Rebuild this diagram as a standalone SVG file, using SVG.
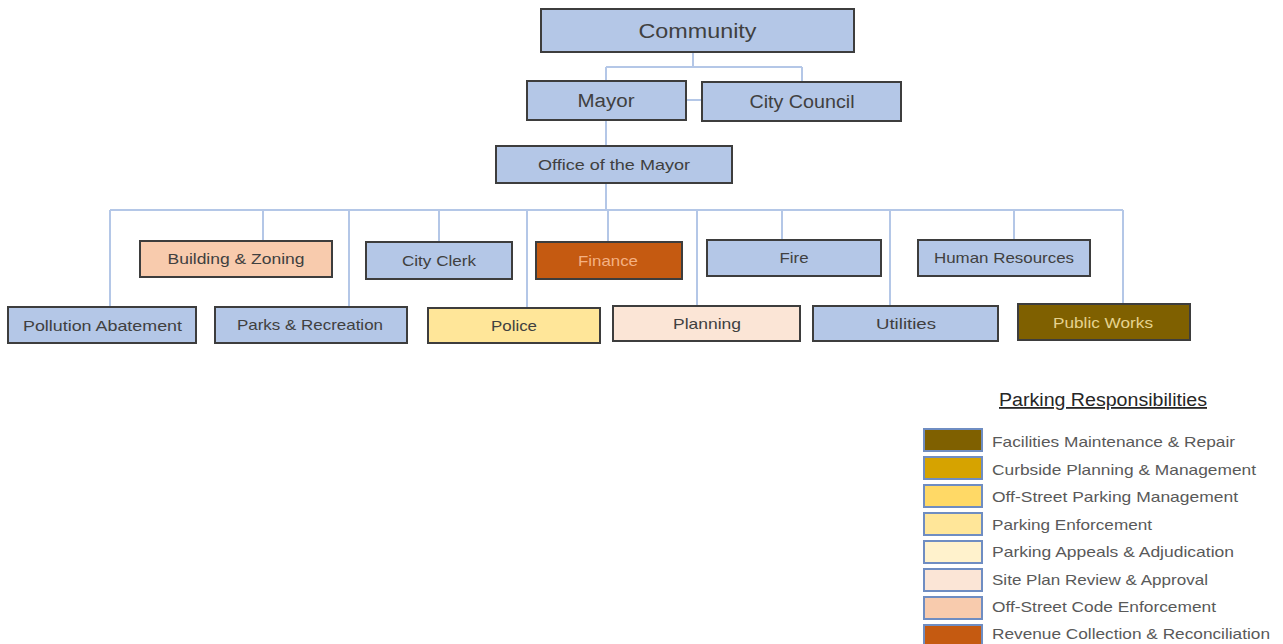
<svg xmlns="http://www.w3.org/2000/svg" width="1283" height="644" viewBox="0 0 1283 644">
<style>
.n{stroke:#3d3d3d;stroke-width:2}
.b{fill:#B4C7E7}
.t{font-family:"Liberation Sans",Arial,sans-serif;fill:#404040;text-anchor:middle}
.c{fill:none;stroke:#B4C7E7;stroke-width:2}
.sw{stroke:#6F8DC2;stroke-width:2}
.lt{font-family:"Liberation Sans",Arial,sans-serif;fill:#595959;font-size:15px}
</style>
<rect width="1283" height="644" fill="#ffffff"/>
<g id="connectors">
<path class="c" d="M693 52V67M606 67H802M606 67V81M802 67V82M606 120V146M606 183V210M110 210H1123"/>
<path class="c" d="M110 210V307M263 210V241M349 210V307M439 210V242M527 210V308M608 210V242M697 210V306M782 210V240M890 210V306M1014 210V240M1123 210V304"/>
<path class="c" stroke-width="3" d="M686 100H702"/>
</g>
<g id="community"><rect class="n b" x="541" y="9" width="313" height="43"/><text class="t" x="697.5" y="38" font-size="21" textLength="118" lengthAdjust="spacingAndGlyphs">Community</text></g>
<g id="mayor"><rect class="n b" x="527" y="81" width="159" height="39"/><text class="t" x="606" y="107" font-size="18" textLength="57" lengthAdjust="spacingAndGlyphs">Mayor</text></g>
<g id="city-council"><rect class="n b" x="702" y="82" width="199" height="39"/><text class="t" x="802" y="108" font-size="18" textLength="105" lengthAdjust="spacingAndGlyphs">City Council</text></g>
<g id="office-mayor"><rect class="n b" x="496" y="146" width="236" height="37"/><text class="t" x="614" y="170" font-size="15" textLength="152" lengthAdjust="spacingAndGlyphs">Office of the Mayor</text></g>
<g id="building-zoning"><rect class="n" fill="#F8CBAD" x="140" y="241" width="192" height="36"/><text class="t" x="236" y="264" font-size="15" textLength="137" lengthAdjust="spacingAndGlyphs">Building &amp; Zoning</text></g>
<g id="city-clerk"><rect class="n b" x="366" y="242" width="146" height="37"/><text class="t" x="439" y="266" font-size="15" textLength="74" lengthAdjust="spacingAndGlyphs">City Clerk</text></g>
<g id="finance"><rect class="n" fill="#C55A11" x="536" y="242" width="146" height="37"/><text class="t" x="608" y="266" font-size="15" fill="#F4B183" style="fill:#F4B183" textLength="60" lengthAdjust="spacingAndGlyphs">Finance</text></g>
<g id="fire"><rect class="n b" x="707" y="240" width="174" height="36"/><text class="t" x="794" y="263" font-size="15" textLength="29" lengthAdjust="spacingAndGlyphs">Fire</text></g>
<g id="human-resources"><rect class="n b" x="918" y="240" width="172" height="36"/><text class="t" x="1004" y="263" font-size="15" textLength="140" lengthAdjust="spacingAndGlyphs">Human Resources</text></g>
<g id="pollution-abatement"><rect class="n b" x="8" y="307" width="188" height="36"/><text class="t" x="102.5" y="331" font-size="15" textLength="159" lengthAdjust="spacingAndGlyphs">Pollution Abatement</text></g>
<g id="parks-recreation"><rect class="n b" x="215" y="307" width="192" height="36"/><text class="t" x="310" y="330" font-size="15" textLength="146" lengthAdjust="spacingAndGlyphs">Parks &amp; Recreation</text></g>
<g id="police"><rect class="n" fill="#FFE699" x="428" y="308" width="172" height="35"/><text class="t" x="514" y="331" font-size="15" textLength="46" lengthAdjust="spacingAndGlyphs">Police</text></g>
<g id="planning"><rect class="n" fill="#FBE5D6" x="613" y="306" width="187" height="35"/><text class="t" x="707" y="329" font-size="15" textLength="68" lengthAdjust="spacingAndGlyphs">Planning</text></g>
<g id="utilities"><rect class="n b" x="813" y="306" width="185" height="35"/><text class="t" x="906" y="329" font-size="15" textLength="60" lengthAdjust="spacingAndGlyphs">Utilities</text></g>
<g id="public-works"><rect class="n" fill="#7F6000" x="1018" y="304" width="172" height="36"/><text class="t" x="1103" y="328" font-size="15" style="fill:#E6D38F" textLength="100" lengthAdjust="spacingAndGlyphs">Public Works</text></g>
<g id="legend">
<text x="1103" y="406" font-family="Liberation Sans, Arial, sans-serif" font-size="18" fill="#262626" text-anchor="middle" text-decoration="underline" textLength="208" lengthAdjust="spacingAndGlyphs">Parking Responsibilities</text>
<rect class="sw" fill="#7F6000" x="924" y="429" width="58" height="22"/>
<rect class="sw" fill="#D6A300" x="924" y="457" width="58" height="22"/>
<rect class="sw" fill="#FFD966" x="924" y="485" width="58" height="22"/>
<rect class="sw" fill="#FFE699" x="924" y="513" width="58" height="22"/>
<rect class="sw" fill="#FFF2CC" x="924" y="541" width="58" height="22"/>
<rect class="sw" fill="#FBE5D6" x="924" y="569" width="58" height="22"/>
<rect class="sw" fill="#F8CBAD" x="924" y="597" width="58" height="22"/>
<rect class="sw" fill="#C55A11" x="924" y="625" width="58" height="22"/>
<text class="lt" x="992" y="447" textLength="243" lengthAdjust="spacingAndGlyphs">Facilities Maintenance &amp; Repair</text>
<text class="lt" x="992" y="475" textLength="264" lengthAdjust="spacingAndGlyphs">Curbside Planning &amp; Management</text>
<text class="lt" x="992" y="502" textLength="246" lengthAdjust="spacingAndGlyphs">Off-Street Parking Management</text>
<text class="lt" x="992" y="530" textLength="160" lengthAdjust="spacingAndGlyphs">Parking Enforcement</text>
<text class="lt" x="992" y="557" textLength="242" lengthAdjust="spacingAndGlyphs">Parking Appeals &amp; Adjudication</text>
<text class="lt" x="992" y="585" textLength="216" lengthAdjust="spacingAndGlyphs">Site Plan Review &amp; Approval</text>
<text class="lt" x="992" y="612" textLength="224" lengthAdjust="spacingAndGlyphs">Off-Street Code Enforcement</text>
<text class="lt" x="992" y="639" textLength="278" lengthAdjust="spacingAndGlyphs">Revenue Collection &amp; Reconciliation</text>
</g>
</svg>
